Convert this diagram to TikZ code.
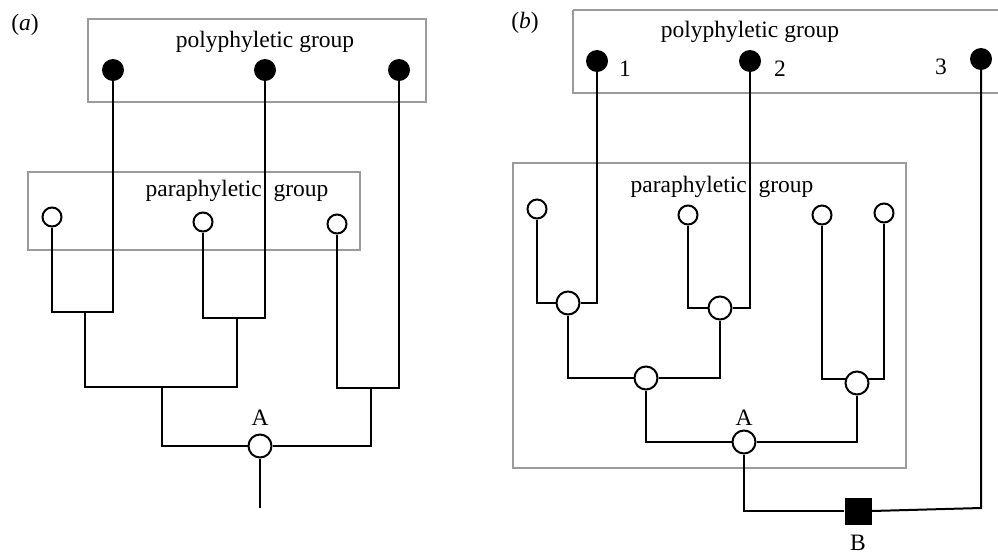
\documentclass[tikz,border=0pt]{standalone}
\usepackage{fontspec}
\setmainfont{Liberation Serif}
\definecolor{boxgray}{RGB}{155,155,155}
\begin{document}
\begin{tikzpicture}[x=1pt,y=-1pt,
  tree/.style={line width=2pt,black},
  grp/.style={draw=boxgray,line width=2pt},
  leafopen/.style={circle,draw=black,line width=2pt,fill=white,minimum size=19pt,inner sep=0pt},
  leaffill/.style={circle,fill=black,minimum size=22pt,inner sep=0pt},
  innode/.style={circle,draw=black,line width=2pt,fill=white,minimum size=23pt,inner sep=0pt},
  lbl/.style={inner sep=0pt,font=\fontsize{23.5}{28}\selectfont},
  sqnode/.style={rectangle,fill=black,minimum size=27pt,inner sep=0pt}]
\useasboundingbox (0,0) rectangle (998,555);

% ---------- panel (a) ----------
\draw[grp] (88,19) rectangle (426,102);
\draw[grp] (28,172) rectangle (360,250);
\node[lbl] (la) at (25,25) {(\textit{a})};
\node[lbl] (polya) at (265,42) {polyphyletic group};
\node[lbl] (paraa) at (237,191) {paraphyletic\hspace{6pt} group};

\node[leaffill] (pa1) at (113,70) {};
\node[leaffill] (pa2) at (265,70) {};
\node[leaffill] (pa3) at (399,70) {};
\node[leafopen] (oa1) at (52,217) {};
\node[leafopen] (oa2) at (203,222) {};
\node[leafopen] (oa3) at (337,224) {};
\node[innode] (Aa) at (260,446) {};
\node[lbl] (Aalbl) at (260,418) {A};

\coordinate (ja1) at (85,312);
\coordinate (ja2) at (237,318);
\coordinate (ja3) at (371,388);
\coordinate (jb1) at (162,387);
\coordinate (roota) at (260,508);

\draw[tree] (oa1) |- (ja1) -| (pa1);
\draw[tree] (oa2) |- (ja2) -| (pa2);
\draw[tree] (oa3) |- (ja3) -| (pa3);
\draw[tree] (ja1) |- (jb1) -| (ja2);
\draw[tree] (jb1) |- (Aa);
\draw[tree] (Aa) -| (ja3);
\draw[tree] (Aa) -- (roota);

% ---------- panel (b) ----------
\draw[grp] (573,10) -- (1004,10);
\draw[grp] (1004,93) -- (573,93) -- (573,10);
\draw[grp] (513,163) rectangle (906,468);
\node[lbl] (lb) at (525,23) {(\textit{b})};
\node[lbl] (polyb) at (750,32) {polyphyletic group};
\node[lbl] (parab) at (722,187) {paraphyletic\hspace{6pt} group};

\node[leaffill] (pb1) at (597,61) {};
\node[leaffill] (pb2) at (750,61) {};
\node[leaffill] (pb3) at (981,59) {};
\node[lbl] (n1) at (625,69) {1};
\node[lbl] (n2) at (780,69) {2};
\node[lbl] (n3) at (941,67) {3};

\node[leafopen] (ob1) at (537,209) {};
\node[leafopen] (ob2) at (688,215) {};
\node[leafopen] (ob3) at (822,215) {};
\node[leafopen] (ob4) at (884,213) {};

\node[innode] (c1) at (568,303) {};
\node[innode] (c2) at (720,308) {};
\node[innode] (c3) at (646,378) {};
\node[innode] (Ab) at (744,442) {};
\node[lbl] (Ablbl) at (744,418) {A};

\coordinate (j4) at (857,379);
\draw[tree] (ob3) |- (j4) -| (ob4);
\node[innode] (c4) at (857,383) {};

\draw[tree] (ob1) |- (c1);
\draw[tree] (c1) -| (pb1);
\draw[tree] (ob2) |- (c2);
\draw[tree] (c2) -| (pb2);
\draw[tree] (c1) |- (c3);
\draw[tree] (c3) -| (c2);
\draw[tree] (c3) |- (Ab);
\draw[tree] (Ab) -| (c4);

\node[sqnode] (B) at (858,511) {};
\node[lbl] (Blbl) at (858,543) {B};
\coordinate (jb) at (981,508);
\draw[tree] (Ab) |- (B);
\draw[tree] (B.east) -- (jb) -- (pb3);
\end{tikzpicture}
\end{document}
